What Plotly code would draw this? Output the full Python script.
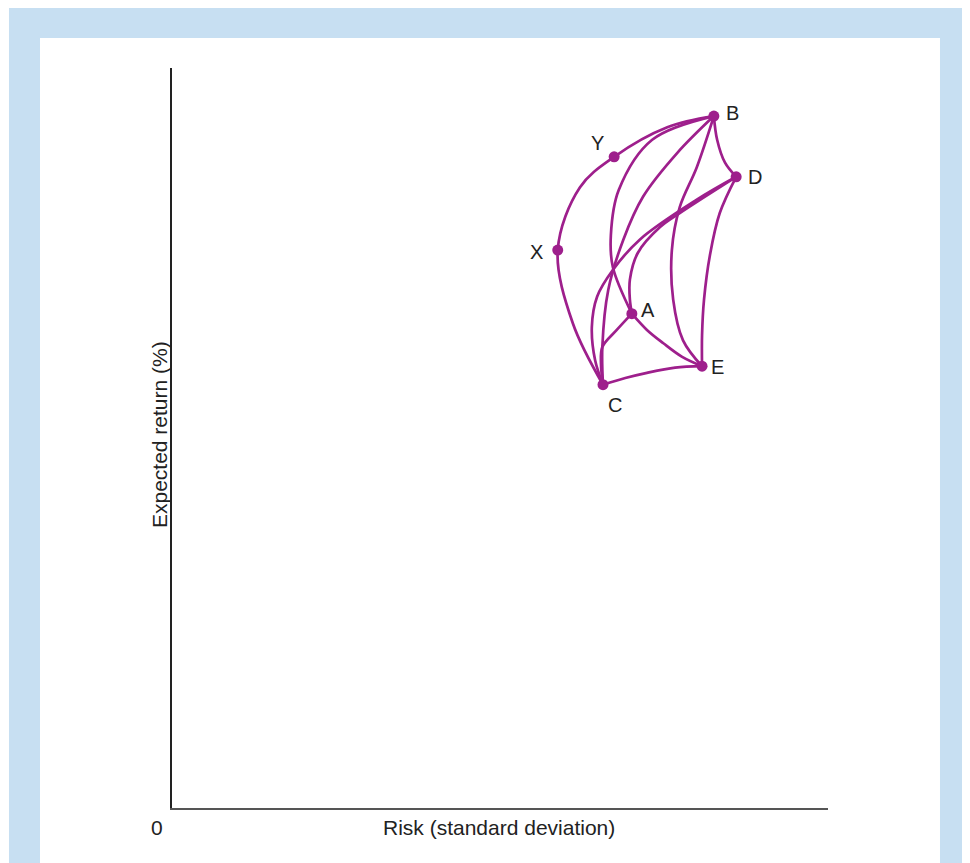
import plotly.graph_objects as go

# Portfolio points (risk, expected return) on a 0-10 arbitrary scale
point_names = ["B", "Y", "D", "X", "A", "E", "C"]
point_x = [8.26, 6.74, 8.60, 5.88, 7.01, 8.08, 6.57]
point_y = [9.35, 8.80, 8.53, 7.54, 6.68, 5.97, 5.72]

# Label positions for the points
label_x = [8.54, 6.48, 8.89, 5.56, 7.26, 8.32, 6.75]
label_y = [9.39, 8.99, 8.53, 7.52, 6.73, 5.96, 5.45]

# Combination curves between portfolios
curve_frontier_x = [6.57, 6.11, 5.88, 6.22, 6.74, 7.55, 8.26]
curve_frontier_y = [5.72, 6.55, 7.54, 8.39, 8.80, 9.20, 9.35]

curve_BA_x = [8.26, 7.32, 6.81, 6.69, 6.72, 7.01]
curve_BA_y = [9.35, 9.03, 8.35, 7.74, 7.31, 6.68]

curve_BC_x = [8.26, 7.70, 7.18, 6.88, 6.65, 6.56, 6.57]
curve_BC_y = [9.35, 8.85, 8.26, 7.68, 7.00, 6.23, 5.72]

curve_BE_x = [8.26, 8.00, 7.74, 7.62, 7.64, 7.79, 8.08]
curve_BE_y = [9.35, 8.66, 8.12, 7.54, 6.87, 6.32, 5.97]

curve_BD_x = [8.26, 8.31, 8.43, 8.60]
curve_BD_y = [9.35, 9.03, 8.72, 8.53]

curve_DC_x = [8.60, 8.00, 7.13, 6.72, 6.48, 6.40, 6.45, 6.57]
curve_DC_y = [8.53, 8.22, 7.68, 7.27, 6.91, 6.50, 6.05, 5.72]

curve_DA_x = [8.60, 7.74, 7.44, 7.10, 6.98, 6.98, 7.01]
curve_DA_y = [8.53, 8.04, 7.85, 7.50, 7.14, 6.87, 6.68]

curve_DE_x = [8.60, 8.35, 8.20, 8.11, 8.08, 8.08]
curve_DE_y = [8.53, 8.04, 7.47, 6.87, 6.39, 5.97]

curve_AE_x = [7.01, 7.24, 7.49, 7.77, 8.08]
curve_AE_y = [6.68, 6.46, 6.28, 6.10, 5.97]

curve_AC_x = [7.01, 6.78, 6.56, 6.54, 6.57]
curve_AC_y = [6.68, 6.46, 6.23, 5.99, 5.72]

curve_CE_x = [6.57, 6.91, 7.24, 7.67, 8.08]
curve_CE_y = [5.72, 5.81, 5.88, 5.95, 5.97]

x_title = "Risk (standard deviation)"
y_title = "Expected return (%)"
origin_label = "0"

PURPLE = "#9e1f8c"
TEXT = "#222222"
FONT = "Liberation Sans, Arial, Helvetica, sans-serif"

curves = [
    (curve_frontier_x, curve_frontier_y),
    (curve_BA_x, curve_BA_y),
    (curve_BC_x, curve_BC_y),
    (curve_BE_x, curve_BE_y),
    (curve_BD_x, curve_BD_y),
    (curve_DC_x, curve_DC_y),
    (curve_DA_x, curve_DA_y),
    (curve_DE_x, curve_DE_y),
    (curve_AE_x, curve_AE_y),
    (curve_AC_x, curve_AC_y),
    (curve_CE_x, curve_CE_y),
]

fig = go.Figure()
for cx, cy in curves:
    fig.add_trace(go.Scatter(
        x=cx, y=cy, mode="lines",
        line=dict(color=PURPLE, width=2.7, shape="spline", smoothing=1.0),
        hoverinfo="skip", showlegend=False,
    ))

fig.add_trace(go.Scatter(
    x=point_x, y=point_y, mode="markers",
    marker=dict(color=PURPLE, size=11),
    text=point_names, showlegend=False,
))

annotations = []
for name, lx, ly in zip(point_names, label_x, label_y):
    annotations.append(dict(
        x=lx, y=ly, xref="x", yref="y", text=name, showarrow=False,
        font=dict(family=FONT, size=20, color=TEXT),
        xanchor="center", yanchor="middle",
    ))

annotations += [
    dict(x=0.4985, y=-0.027, xref="paper", yref="paper", text=x_title,
         showarrow=False, font=dict(family=FONT, size=21, color=TEXT),
         xanchor="center", yanchor="middle"),
    dict(x=-0.0198, y=0.504, xref="paper", yref="paper", text=y_title,
         showarrow=False, textangle=-90,
         font=dict(family=FONT, size=21, color=TEXT),
         xanchor="center", yanchor="middle"),
    dict(x=-0.0229, y=-0.027, xref="paper", yref="paper", text=origin_label,
         showarrow=False, font=dict(family=FONT, size=21, color=TEXT),
         xanchor="center", yanchor="middle"),
]

shapes = [
    dict(type="rect", xref="paper", yref="paper",
         x0=-0.2485, x1=1.3, y0=-0.2, y1=1.0824,
         fillcolor="#c7dff2", line=dict(width=0), layer="below"),
    dict(type="rect", xref="paper", yref="paper",
         x0=-0.2012, x1=1.1707, y0=-0.2, y1=1.0405,
         fillcolor="#ffffff", line=dict(width=0), layer="below"),
]

fig.update_layout(
    width=970, height=863,
    margin=dict(l=164, r=150, t=60, b=63, autoexpand=False),
    paper_bgcolor="#ffffff",
    plot_bgcolor="rgba(0,0,0,0)",
    showlegend=False,
    annotations=annotations,
    shapes=shapes,
    xaxis=dict(range=[0, 10], showline=True, linecolor="#555555", linewidth=1.5,
               showgrid=False, zeroline=False, showticklabels=False, ticks=""),
    yaxis=dict(range=[0, 10], showline=True, linecolor="#222222", linewidth=1.5,
               showgrid=False, zeroline=False, showticklabels=False, ticks=""),
)

fig.write_html("out.html")
